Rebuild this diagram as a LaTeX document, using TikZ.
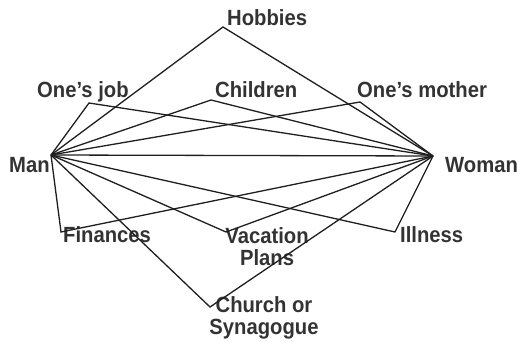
\documentclass[tikz,border=0pt]{standalone}
\usepackage{fontspec}
\newfontfamily\lblfont[FakeStretch=0.92]{Liberation Sans}
\usetikzlibrary{positioning}
\tikzstyle{every node}=[font=\lblfont\bfseries\fontsize{22}{22}\selectfont, text=black!80, inner sep=0pt]
\tikzstyle{link}=[line width=1.3pt, black!88]

\begin{document}
\begin{tikzpicture}[x=1pt, y=1pt]
            \useasboundingbox (0, 0) rectangle (518, 343);

            \coordinate (m) at (51, 188);
            \coordinate (w) at (433, 187);
            \coordinate (hob) at (223, 316);
            \coordinate (job) at (89, 240);
            \coordinate (chi) at (211, 243);
            \coordinate (mot) at (360, 241);
            \coordinate (fin) at (61, 111);
            \coordinate (vac) at (226, 111);
            \coordinate (ill) at (395, 111);
            \coordinate (chu) at (210, 36);

            \node [anchor=base west] (man) at (9, 171) {Man};
            \node [anchor=base west] (woman) at (445, 171) {Woman};
            \node [anchor=base west] (hobbies) at (227, 317) {Hobbies};
            \node [anchor=base west] (onesjob) at (37, 245) {One’s job};
            \node [anchor=base west] (children) at (215, 245) {Children};
            \node [anchor=base west] (mother) at (357, 245) {One’s mother};
            \node [anchor=base west] (finances) at (63, 101) {Finances};
            \node [anchor=base west] (illness) at (400, 101) {Illness};
            \node [align=center] (vacation) at (267, 96) {Vacation\\Plans};
            \node [align=center] (church) at (264, 25) {Church or\\Synagogue};

            \draw [link] (m) -- (w);
            \foreach \t in {hob, job, chi, mot, fin, vac, ill, chu}
                \draw [link] (m) -- (\t) -- (w);
        \end{tikzpicture}
\end{document}
